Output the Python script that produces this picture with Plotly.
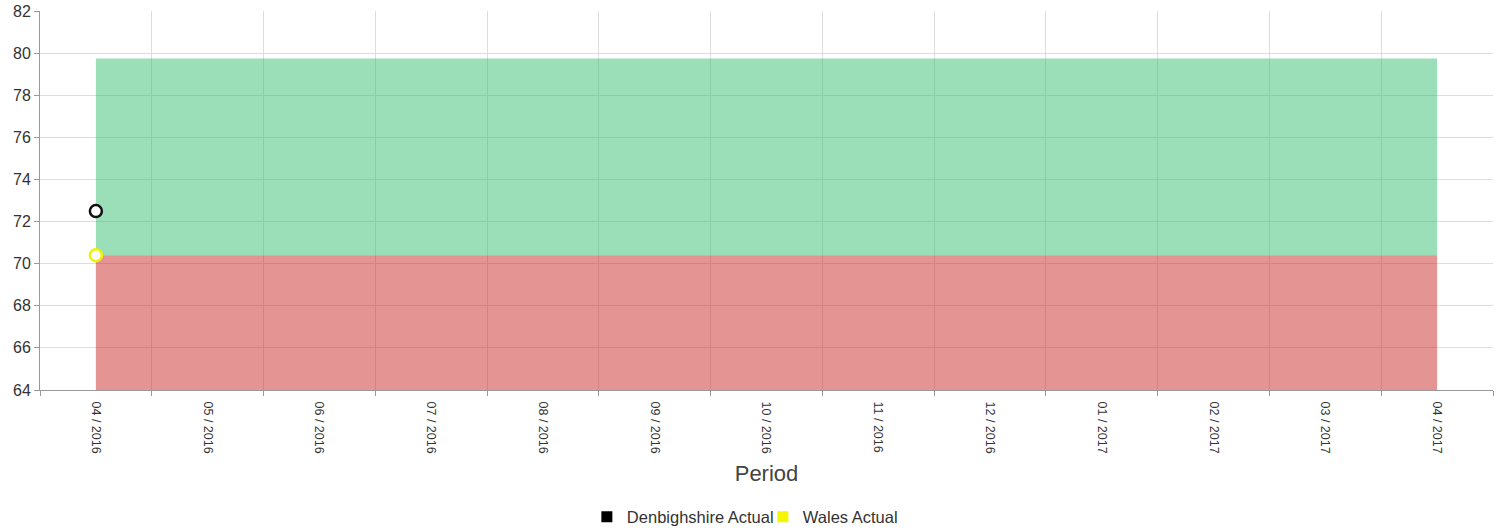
import plotly.graph_objects as go

# Reporting periods (monthly)
periods = ["04 / 2016", "05 / 2016", "06 / 2016", "07 / 2016", "08 / 2016",
           "09 / 2016", "10 / 2016", "11 / 2016", "12 / 2016", "01 / 2017",
           "02 / 2017", "03 / 2017", "04 / 2017"]

# Performance bands (lower band upper edge, upper band upper edge)
band_low_top = [70.4] * len(periods)
band_high_top = [79.75] * len(periods)

# Actual values (only first period reported)
denbighshire_actual = [72.5]
wales_actual = [70.4]

fig = go.Figure()

fig.add_trace(go.Scatter(
    x=periods, y=band_low_top, mode="lines", line=dict(width=0),
    fill="tozeroy", fillcolor="rgba(200,42,40,0.5)",
    showlegend=False, hoverinfo="skip"))
fig.add_trace(go.Scatter(
    x=periods, y=band_high_top, mode="lines", line=dict(width=0),
    fill="tonexty", fillcolor="rgba(56,192,113,0.5)",
    showlegend=False, hoverinfo="skip"))

fig.add_trace(go.Scatter(
    x=periods[:len(denbighshire_actual)], y=denbighshire_actual, mode="markers",
    marker=dict(symbol="circle", size=12, color="white",
                line=dict(color="#111111", width=2.5)),
    showlegend=False, name="Denbighshire Actual"))
fig.add_trace(go.Scatter(
    x=periods[:len(wales_actual)], y=wales_actual, mode="markers",
    marker=dict(symbol="circle", size=12, color="white",
                line=dict(color="#f2f200", width=2.5)),
    showlegend=False, name="Wales Actual"))

# Legend entries with square swatches
fig.add_trace(go.Scatter(
    x=[None], y=[None], mode="markers", name="Denbighshire Actual",
    marker=dict(symbol="square", size=11, color="#000000")))
fig.add_trace(go.Scatter(
    x=[None], y=[None], mode="markers", name="Wales Actual",
    marker=dict(symbol="square", size=11, color="#f5f500")))

fig.update_layout(
    width=1504, height=530,
    margin=dict(l=40, r=11, t=11, b=140, autoexpand=False),
    paper_bgcolor="white", plot_bgcolor="white",
    font=dict(family="Liberation Sans, Arial, sans-serif", color="#333333"),
    showlegend=True,
    legend=dict(orientation="h", x=0.4975, xanchor="center", y=-0.335,
                yanchor="middle", font=dict(size=16.5, color="#333333"),
                traceorder="normal", itemwidth=30, tracegroupgap=0,
                entrywidth=131),
    xaxis=dict(
        type="category", categoryorder="array", categoryarray=periods,
        range=[-0.5, len(periods) - 0.5],
        tickson="boundaries", ticks="outside", ticklen=5, tickcolor="#999999",
        tickangle=90, tickfont=dict(size=12.5, color="#333333"),
        ticklabelstandoff=8,
        showgrid=True, gridcolor="#dddddd", gridwidth=1,
        showline=True, linecolor="#999999", linewidth=1,
        mirror=False, zeroline=False, automargin=False,
        title=dict(text="Period", font=dict(size=22, color="#444444"), standoff=12),
    ),
    yaxis=dict(
        range=[64, 82], dtick=2, tick0=64,
        ticks="outside", ticklen=5, tickcolor="#999999",
        tickfont=dict(size=16, color="#333333"),
        showgrid=True, gridcolor="#dddddd", gridwidth=1,
        showline=True, linecolor="#999999", linewidth=1,
        zeroline=False, automargin=False,
    ),
)

fig.write_html("out.html")
